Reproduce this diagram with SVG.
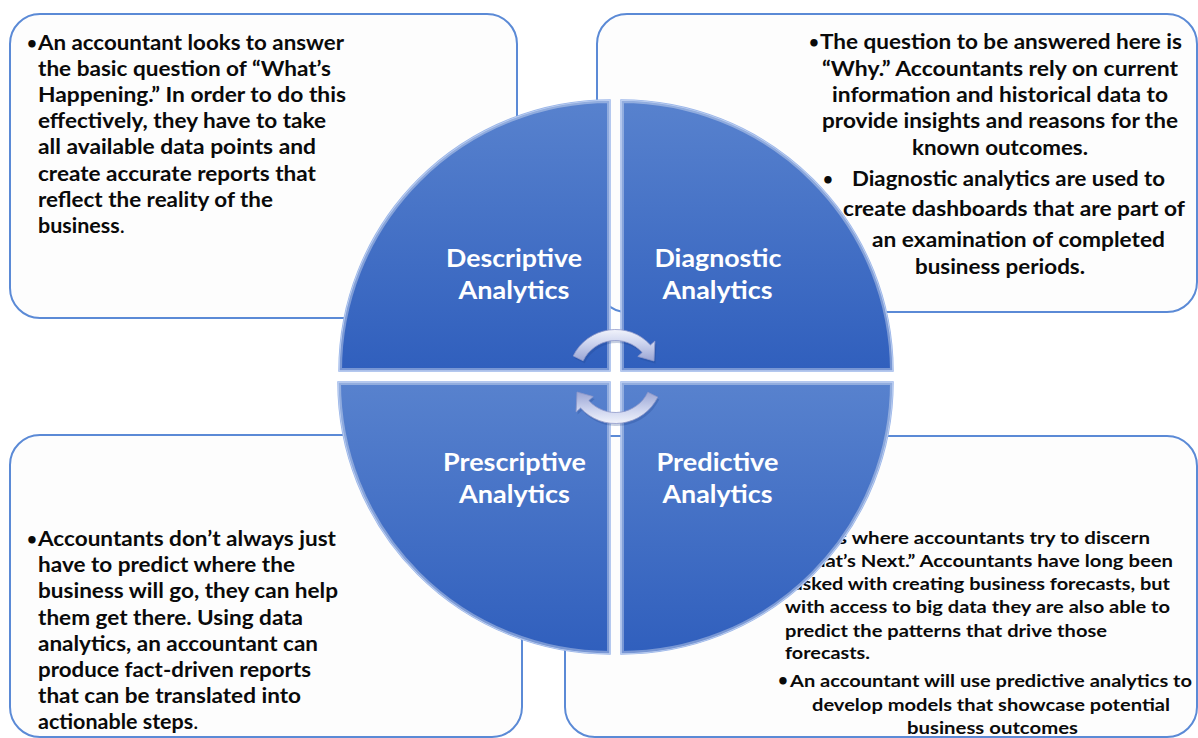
<svg xmlns="http://www.w3.org/2000/svg" width="1198" height="738" viewBox="0 0 1198 738">
  <defs>
    <style>
      .box{fill:#fdfdfd;stroke:#5b8ad6;stroke-width:2}
      .t{font-family:Lato,"Liberation Sans",sans-serif;font-weight:700;fill:#0a0a0a}
      .big{font-size:21.5px}
      .mid{font-size:21px}
      .sm{font-size:17.5px}
      .reg{font-weight:400}
      .bul{font-size:17px}
      .lbl{font-family:Lato,"Liberation Sans",sans-serif;font-weight:700;font-size:25px;fill:#ffffff;text-anchor:middle}
      .q{fill:url(#qfill);stroke:#9cb7ea;stroke-width:1.5}
      .qhi{fill:none;stroke:#ffffff;stroke-opacity:0.35;stroke-width:6}
      .arr{fill:url(#arrfill);stroke:#8e98c9;stroke-width:0.8}
      .arrsh{fill:#1d3f86;opacity:0.25}
    </style>
    <linearGradient id="qfill" x1="0" y1="0" x2="0" y2="1">
      <stop offset="0" stop-color="#5882ce"/>
      <stop offset="1" stop-color="#305fbd"/>
    </linearGradient>
    <linearGradient id="arrfill" x1="0" y1="0" x2="0" y2="1">
      <stop offset="0" stop-color="#f1f3fb"/>
      <stop offset="0.45" stop-color="#ccd3ee"/>
      <stop offset="1" stop-color="#9aa5d4"/>
    </linearGradient>
    <path id="pDesc" d="M610 371 H339 A271 271 0 0 1 610 100 Z"/>
    <path id="pDiag" d="M621 371 V100 A272 272 0 0 1 893 371 Z"/>
    <path id="pPres" d="M610 382 V654 A272 272 0 0 1 338 382 Z"/>
    <path id="pPred" d="M621 382 H893 A272 272 0 0 1 621 654 Z"/>
    <clipPath id="cDesc"><use href="#pDesc"/></clipPath>
    <clipPath id="cDiag"><use href="#pDiag"/></clipPath>
    <clipPath id="cPres"><use href="#pPres"/></clipPath>
    <clipPath id="cPred"><use href="#pPred"/></clipPath>
    <path id="cycleArrow" d="M573.26 355.90 A47 47 0 0 1 650.43 345.05 L654.88 341.04 L653.98 360.95 L637.79 356.43 L642.25 352.41 A36 36 0 0 0 583.14 360.72 Z"/>
  </defs>

  <!-- text panels -->
  <g id="panel-descriptive">
    <rect class="box" x="10" y="14" width="507" height="304" rx="30"/>
    <text class="t bul" x="27" y="48.5">•</text>
    <text class="t big" x="38" y="49.5" textLength="306" lengthAdjust="spacingAndGlyphs">An accountant looks to answer</text>
    <text class="t big" x="38" y="75.7" textLength="293" lengthAdjust="spacingAndGlyphs">the basic question of “What’s</text>
    <text class="t big" x="38" y="101.9" textLength="308" lengthAdjust="spacingAndGlyphs">Happening.” In order to do this</text>
    <text class="t big" x="38" y="128.1" textLength="288" lengthAdjust="spacingAndGlyphs">effectively, they have to take</text>
    <text class="t big" x="38" y="154.3" textLength="278" lengthAdjust="spacingAndGlyphs">all available data points and</text>
    <text class="t big" x="38" y="180.5" textLength="278" lengthAdjust="spacingAndGlyphs">create accurate reports that</text>
    <text class="t big" x="38" y="206.7" textLength="235" lengthAdjust="spacingAndGlyphs">reflect the reality of the</text>
    <text class="t big" x="38" y="232.9">business<tspan class="reg">.</tspan></text>
  </g>

  <g id="panel-diagnostic">
    <rect class="box" x="597" y="14" width="600" height="298" rx="30"/>
    <text class="t bul" x="809" y="48">•</text>
    <text class="t mid" x="820" y="49" textLength="362" lengthAdjust="spacingAndGlyphs">The question to be answered here is</text>
    <text class="t mid" x="822" y="76" textLength="356" lengthAdjust="spacingAndGlyphs">“Why.” Accountants rely on current</text>
    <text class="t mid" x="832" y="102" textLength="336" lengthAdjust="spacingAndGlyphs">information and historical data to</text>
    <text class="t mid" x="822" y="128" textLength="356" lengthAdjust="spacingAndGlyphs">provide insights and reasons for the</text>
    <text class="t mid" x="912" y="155" textLength="176" lengthAdjust="spacingAndGlyphs">known outcomes.</text>
    <text class="t bul" x="823" y="185">•</text>
    <text class="t mid" x="852" y="186" textLength="313" lengthAdjust="spacingAndGlyphs">Diagnostic analytics are used to</text>
    <text class="t mid" x="843" y="216" textLength="342" lengthAdjust="spacingAndGlyphs">create dashboards that are part of</text>
    <text class="t mid" x="872" y="247" textLength="293" lengthAdjust="spacingAndGlyphs">an examination of completed</text>
    <text class="t mid" x="915" y="274" textLength="170" lengthAdjust="spacingAndGlyphs">business periods.</text>
  </g>

  <g id="panel-prescriptive">
    <rect class="box" x="10" y="435" width="512" height="302" rx="30"/>
    <text class="t bul" x="27" y="545">•</text>
    <text class="t big" x="38" y="546" textLength="298" lengthAdjust="spacingAndGlyphs">Accountants don’t always just</text>
    <text class="t big" x="38" y="572.2" textLength="257" lengthAdjust="spacingAndGlyphs">have to predict where the</text>
    <text class="t big" x="38" y="598.4" textLength="300" lengthAdjust="spacingAndGlyphs">business will go, they can help</text>
    <text class="t big" x="38" y="624.6" textLength="265" lengthAdjust="spacingAndGlyphs">them get there. Using data</text>
    <text class="t big" x="38" y="650.8" textLength="280" lengthAdjust="spacingAndGlyphs">analytics, an accountant can</text>
    <text class="t big" x="38" y="677" textLength="273" lengthAdjust="spacingAndGlyphs">produce fact-driven reports</text>
    <text class="t big" x="38" y="703.2" textLength="263" lengthAdjust="spacingAndGlyphs">that can be translated into</text>
    <text class="t big" x="38" y="729.4">actionable steps<tspan class="reg">.</tspan></text>
  </g>

  <g id="panel-predictive">
    <rect class="box" x="565" y="436" width="632" height="301" rx="30"/>
    <text class="t bul" x="779" y="543">•</text>
    <text class="t sm" x="790" y="544" textLength="360" lengthAdjust="spacingAndGlyphs">This is where accountants try to discern</text>
    <text class="t sm" x="785" y="567" textLength="388" lengthAdjust="spacingAndGlyphs">“What’s Next.” Accountants have long been</text>
    <text class="t sm" x="785" y="590" textLength="385" lengthAdjust="spacingAndGlyphs">tasked with creating business forecasts, but</text>
    <text class="t sm" x="785" y="613" textLength="385" lengthAdjust="spacingAndGlyphs">with access to big data they are also able to</text>
    <text class="t sm" x="785" y="636.5" textLength="322" lengthAdjust="spacingAndGlyphs">predict the patterns that drive those</text>
    <text class="t sm" x="785" y="659" textLength="85" lengthAdjust="spacingAndGlyphs">forecasts.</text>
    <text class="t bul" x="778" y="686">•</text>
    <text class="t sm" x="790" y="687" textLength="402" lengthAdjust="spacingAndGlyphs">An accountant will use predictive analytics to</text>
    <text class="t sm" x="812" y="711" textLength="358" lengthAdjust="spacingAndGlyphs">develop models that showcase potential</text>
    <text class="t sm" x="907" y="734" textLength="171" lengthAdjust="spacingAndGlyphs">business outcomes</text>
  </g>

  <!-- quadrant circle -->
  <g id="node-descriptive">
    <use href="#pDesc" class="q"/>
    <use href="#pDesc" class="qhi" clip-path="url(#cDesc)"/>
    <text class="lbl" x="514" y="266.5" textLength="136" lengthAdjust="spacingAndGlyphs">Descriptive</text>
    <text class="lbl" x="514" y="298.5" textLength="111" lengthAdjust="spacingAndGlyphs">Analytics</text>
  </g>
  <g id="node-diagnostic">
    <use href="#pDiag" class="q"/>
    <use href="#pDiag" class="qhi" clip-path="url(#cDiag)"/>
    <text class="lbl" x="718" y="266.5" textLength="127" lengthAdjust="spacingAndGlyphs">Diagnostic</text>
    <text class="lbl" x="717.5" y="298.5" textLength="110" lengthAdjust="spacingAndGlyphs">Analytics</text>
  </g>
  <g id="node-prescriptive">
    <use href="#pPres" class="q"/>
    <use href="#pPres" class="qhi" clip-path="url(#cPres)"/>
    <text class="lbl" x="514.5" y="470.5" textLength="143" lengthAdjust="spacingAndGlyphs">Prescriptive</text>
    <text class="lbl" x="514.5" y="502.5" textLength="111" lengthAdjust="spacingAndGlyphs">Analytics</text>
  </g>
  <g id="node-predictive">
    <use href="#pPred" class="q"/>
    <use href="#pPred" class="qhi" clip-path="url(#cPred)"/>
    <text class="lbl" x="717.5" y="470.5" textLength="122" lengthAdjust="spacingAndGlyphs">Predictive</text>
    <text class="lbl" x="717.5" y="502.5" textLength="110" lengthAdjust="spacingAndGlyphs">Analytics</text>
  </g>

  <!-- cycle arrows -->
  <g id="connectors">
    <use href="#cycleArrow" class="arrsh" transform="translate(1.5 2.5)"/>
    <use href="#cycleArrow" class="arr"/>
    <g transform="rotate(180 615.5 376.5)">
      <use href="#cycleArrow" class="arrsh" transform="translate(-1.5 -2.5)"/>
      <use href="#cycleArrow" class="arr"/>
    </g>
  </g>
</svg>
